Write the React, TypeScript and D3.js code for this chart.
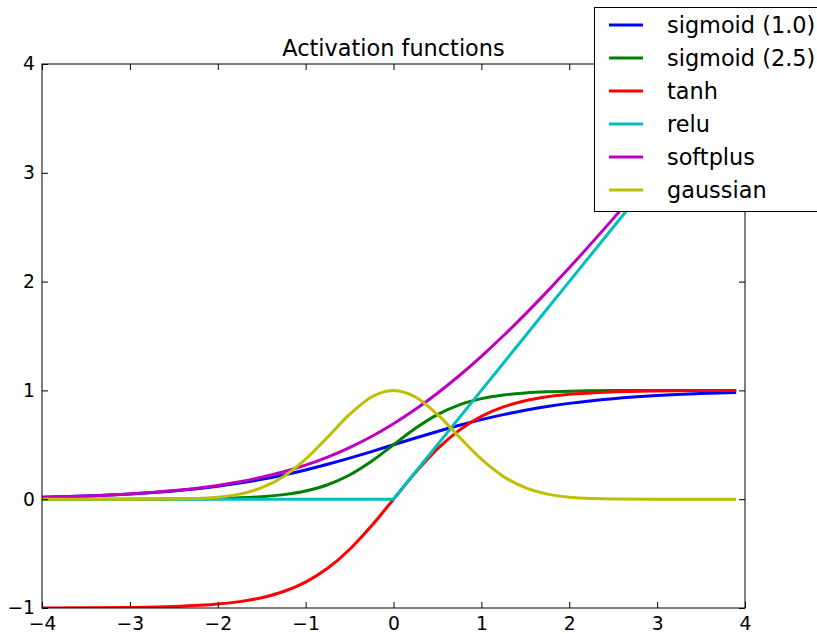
import { useEffect, useRef } from "react";
import * as d3 from "d3";

const W = 817;
const H = 634;
const margin = { left: 42, right: 72, top: 64, bottom: 26 };

const xTicks = [-4, -3, -2, -1, 0, 1, 2, 3, 4];
const yTicks = [-1, 0, 1, 2, 3, 4];

const xs = [-4, -3.5, -3, -2.5, -2, -1.75, -1.5, -1.25, -1, -0.75, -0.5, -0.25, 0,
  0.25, 0.5, 0.75, 1, 1.25, 1.5, 1.75, 2, 2.5, 3, 3.5, 3.9];

const sigmoid1 = [0.018, 0.0293, 0.0474, 0.0759, 0.1192, 0.148, 0.1824, 0.2227, 0.2689, 0.3208, 0.3775, 0.4378, 0.5,
  0.5622, 0.6225, 0.6792, 0.7311, 0.7773, 0.8176, 0.852, 0.8808, 0.9241, 0.9526, 0.9707, 0.9802];
const sigmoid25 = [0.0, 0.0002, 0.0006, 0.0019, 0.0067, 0.0124, 0.023, 0.0421, 0.0759, 0.133, 0.2227, 0.3487, 0.5,
  0.6513, 0.7773, 0.867, 0.9241, 0.9579, 0.977, 0.9876, 0.9933, 0.9981, 0.9994, 0.9998, 1.0];
const tanh = [-0.9993, -0.9982, -0.9951, -0.9866, -0.964, -0.9414, -0.9051, -0.8483, -0.7616, -0.6351, -0.4621, -0.2449, 0,
  0.2449, 0.4621, 0.6351, 0.7616, 0.8483, 0.9051, 0.9414, 0.964, 0.9866, 0.9951, 0.9982, 0.9992];
const relu = [0, 0, 0, 0, 0, 0, 0, 0, 0, 0, 0, 0, 0,
  0.25, 0.5, 0.75, 1, 1.25, 1.5, 1.75, 2, 2.5, 3, 3.5, 3.9];
const softplus = [0.0181, 0.0298, 0.0486, 0.0789, 0.1269, 0.1602, 0.2014, 0.2519, 0.3133, 0.3869, 0.4741, 0.5759, 0.6931,
  0.8259, 0.9741, 1.1369, 1.3133, 1.5019, 1.7014, 1.9102, 2.1269, 2.5789, 3.0486, 3.5298, 3.92];
const gaussian = [0, 0, 0.0001, 0.0019, 0.0183, 0.0468, 0.1054, 0.2096, 0.3679, 0.5698, 0.7788, 0.9394, 1,
  0.9394, 0.7788, 0.5698, 0.3679, 0.2096, 0.1054, 0.0468, 0.0183, 0.0019, 0.0001, 0, 0];

const series = [
  { name: "sigmoid (1.0)", color: "#0000ff", values: sigmoid1, linear: false },
  { name: "sigmoid (2.5)", color: "#008000", values: sigmoid25, linear: false },
  { name: "tanh", color: "#ff0000", values: tanh, linear: false },
  { name: "relu", color: "#00bfbf", values: relu, linear: true },
  { name: "softplus", color: "#bf00bf", values: softplus, linear: false },
  { name: "gaussian", color: "#bfbf00", values: gaussian, linear: false },
];

const App = () => {
  const ref = useRef<SVGSVGElement>(null);

  useEffect(() => {
    const svg = d3.select(ref.current);
    svg.selectAll("*").remove();

    const x = d3.scaleLinear().domain([-4, 4]).range([margin.left, W - margin.right]);
    const y = d3.scaleLinear().domain([-1, 4]).range([H - margin.bottom, margin.top]);
    const fmt = d3.format("d");
    const font = "DejaVu Sans, sans-serif";

    svg.append("defs").append("clipPath").attr("id", "plot-clip")
      .append("rect")
      .attr("x", x(-4)).attr("y", y(4))
      .attr("width", x(4) - x(-4)).attr("height", y(-1) - y(4));

    // curves
    const g = svg.append("g").attr("clip-path", "url(#plot-clip)");
    series.forEach((s) => {
      const line = d3.line<number>()
        .x((d, i) => x(xs[i]))
        .y((d) => y(d))
        .curve(s.linear ? d3.curveLinear : d3.curveMonotoneX);
      g.append("path")
        .datum(s.values)
        .attr("fill", "none")
        .attr("stroke", s.color)
        .attr("stroke-width", 3)
        .attr("stroke-linejoin", "round")
        .attr("d", line);
    });

    // axes (inside ticks on all four sides)
    const styleAxis = (sel: any) => {
      sel.select(".domain").remove();
      sel.selectAll("line").attr("stroke", "#000").attr("stroke-width", 1);
      sel.selectAll("text").attr("fill", "#000").style("font-size", "18.7px").style("font-family", font);
    };

    svg.append("g").attr("transform", `translate(0,${y(-1)})`)
      .call(d3.axisBottom(x).tickValues(xTicks).tickFormat(fmt as any).tickSizeInner(-6).tickSizeOuter(0).tickPadding(9))
      .call(styleAxis);
    svg.append("g").attr("transform", `translate(0,${y(4)})`)
      .call(d3.axisTop(x).tickValues(xTicks).tickFormat(() => "").tickSizeInner(-6).tickSizeOuter(0))
      .call(styleAxis);
    svg.append("g").attr("transform", `translate(${x(-4)},0)`)
      .call(d3.axisLeft(y).tickValues(yTicks).tickFormat(fmt as any).tickSizeInner(-6).tickSizeOuter(0).tickPadding(7))
      .call(styleAxis);
    svg.append("g").attr("transform", `translate(${x(4)},0)`)
      .call(d3.axisRight(y).tickValues(yTicks).tickFormat(() => "").tickSizeInner(-6).tickSizeOuter(0))
      .call(styleAxis);

    svg.append("rect")
      .attr("x", x(-4)).attr("y", y(4))
      .attr("width", x(4) - x(-4)).attr("height", y(-1) - y(4))
      .attr("fill", "none").attr("stroke", "#000").attr("stroke-width", 1);

    svg.append("text")
      .attr("x", (x(-4) + x(4)) / 2).attr("y", 56)
      .attr("text-anchor", "middle")
      .style("font-family", font).style("font-size", "22.4px")
      .text("Activation functions");

    // legend
    const lg = svg.append("g");
    lg.append("rect")
      .attr("x", 594.5).attr("y", 7.5).attr("width", 300).attr("height", 204)
      .attr("fill", "#fff").attr("stroke", "#000").attr("stroke-width", 1);
    series.forEach((s, i) => {
      const cy = 25 + i * 33;
      lg.append("line")
        .attr("x1", 609).attr("x2", 643).attr("y1", cy).attr("y2", cy)
        .attr("stroke", s.color).attr("stroke-width", 3);
      lg.append("text")
        .attr("x", 667).attr("y", cy).attr("dy", "0.36em")
        .style("font-family", font).style("font-size", "22.4px")
        .text(s.name);
    });
  }, []);

  return (
    <svg
      ref={ref}
      width={W}
      height={H}
      style={{ position: "absolute", left: 0, top: 0, background: "#fff" }}
    ></svg>
  );
};

export default App;
